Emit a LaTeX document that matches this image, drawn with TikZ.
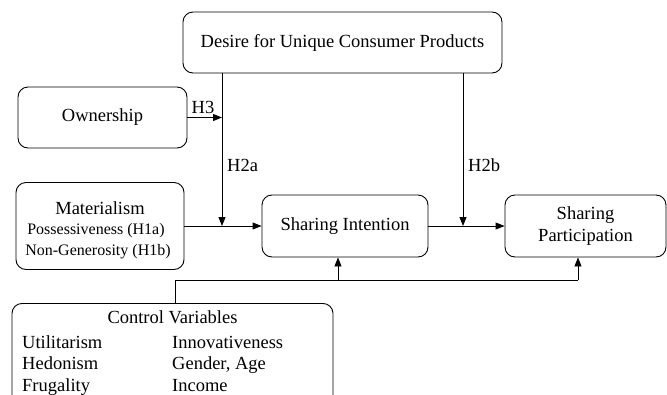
\documentclass[tikz,border=0pt]{standalone}
\usepackage{fontspec}
\setmainfont{Liberation Serif}
\usetikzlibrary{arrows.meta}
\tikzset{
  box/.style={draw, line width=0.9pt, rounded corners=10pt, inner sep=0pt, align=center, font=\fontsize{18.5}{22}\selectfont},
  arr/.style={line width=0.9pt, -{Triangle[length=9pt,width=7pt]}},
  ln/.style={line width=0.9pt},
  lbl/.style={font=\fontsize{18.5}{22}\selectfont, inner sep=0pt},
  sm/.style={font=\fontsize{16}{19}\selectfont, inner sep=0pt}
}
\begin{document}
\begin{tikzpicture}[x=1pt,y=-1pt]
\useasboundingbox (0,0) rectangle (667,394);
\node[box, minimum width=319pt, minimum height=61pt] (desire) at (342.5,42.5) {Desire for Unique Consumer Products};
\node[box, minimum width=169pt, minimum height=61pt] (own) at (102.5,117.5) {Ownership};
\node[box, minimum width=168pt, minimum height=87pt] (mat) at (100,226) {};
\node[lbl, anchor=base] (matt) at (100,214) {Materialism};
\node[sm, anchor=base] (mat1) at (96,234.5) {Possessiveness (H1a)};
\node[sm, anchor=base] (mat2) at (98,255.5) {Non-Generosity (H1b)};
\node[box, minimum width=166pt, minimum height=62pt] (si) at (345,226) {Sharing Intention};
\node[box, minimum width=161pt, minimum height=62pt] (sp) at (585.5,226) {Sharing\\[0pt]Participation};
\node[box, minimum width=321pt, minimum height=120pt, anchor=north] (ctrl) at (172.5,303) {};
\node[lbl, anchor=base] (ctitle) at (172.5,323) {Control Variables};
\node[lbl, anchor=base west] (c11) at (22,348) {Utilitarism};
\node[lbl, anchor=base west] (c21) at (22,369) {Hedonism};
\node[lbl, anchor=base west] (c31) at (22,391) {Frugality};
\node[lbl, anchor=base west] (c12) at (172,348) {Innovativeness};
\node[lbl, anchor=base west] (c22) at (172,369) {Gender, Age};
\node[lbl, anchor=base west] (c32) at (172,391) {Income};
% connectors
\coordinate (j1) at (222,226);
\coordinate (j2) at (463,226);
\draw[arr] (desire.south -| j1) -- (j1);
\draw[arr] (desire.south -| j2) -- (j2);
\draw[arr] (own.east) -- (own.east -| j1);
\draw[arr] (mat.east) -- (si.west);
\draw[arr] (si.east) -- (sp.west);
\node[lbl, anchor=base] (h3) at (203,113) {H3};
\node[lbl, anchor=base west] (h2a) at (227,171) {H2a};
\node[lbl, anchor=base west] (h2b) at (468,171) {H2b};
\coordinate (c1) at (175,280);
\coordinate (a1) at (338,280);
\coordinate (a2) at (578,280);
\draw[ln] (ctrl.north -| c1) -- (c1) -- (a2);
\draw[arr] (a1) -- (a1 |- si.south);
\draw[arr] (a2) -- (a2 |- sp.south);
\end{tikzpicture}
\end{document}
